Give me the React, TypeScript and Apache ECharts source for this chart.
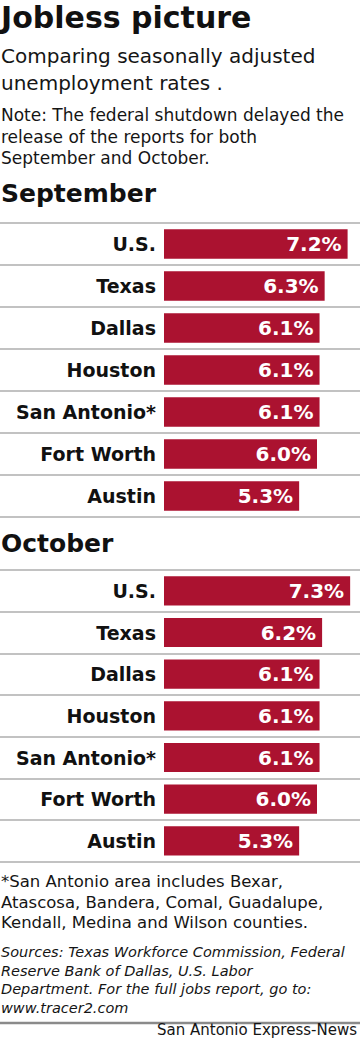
import React, { useEffect, useRef } from "react";
import * as echarts from "echarts";

const septCategories = ["U.S.", "Texas", "Dallas", "Houston", "San Antonio*", "Fort Worth", "Austin"];
const septValues = [7.2, 6.3, 6.1, 6.1, 6.1, 6.0, 5.3];
const octCategories = ["U.S.", "Texas", "Dallas", "Houston", "San Antonio*", "Fort Worth", "Austin"];
const octValues = [7.3, 6.2, 6.1, 6.1, 6.1, 6.0, 5.3];

const titleText = "Jobless picture";
const subtitleLines = ["Comparing seasonally adjusted", "unemployment rates ."];
const noteLines = [
  "Note: The federal shutdown delayed the",
  "release of the reports for both",
  "September and October.",
];
const sectionTitles = ["September", "October"];
const footnoteLines = [
  "*San Antonio area includes Bexar,",
  "Atascosa, Bandera, Comal, Guadalupe,",
  "Kendall, Medina and Wilson counties.",
];
const sourceLines = [
  "Sources: Texas Workforce Commission, Federal",
  "Reserve Bank of Dallas, U.S. Labor",
  "Department. For the full jobs report, go to:",
  "www.tracer2.com",
];
const creditText = "San Antonio Express-News";

const FONT = "'DejaVu Sans', sans-serif";
const BAR_COLOR = "#ab1230";
const W = 360;
const PX_PER_UNIT = 25.5;
const ZERO_X = 164;

export default function App() {
  const ref = useRef<HTMLDivElement>(null);
  useEffect(() => {
    document.body.style.margin = "0";
    const chart = echarts.init(ref.current!, null, { renderer: "svg" });

    const txt = (text: string, x: number, y: number, size: number, opts: any = {}) => ({
      type: "text",
      x,
      y,
      silent: true,
      style: {
        text,
        fontFamily: FONT,
        fontSize: size,
        fontWeight: opts.bold ? "bold" : "normal",
        fontStyle: opts.italic ? "italic" : "normal",
        fill: opts.color || "#151515",
        align: opts.align || "left",
        verticalAlign: "middle",
      },
    });

    const graphics: any[] = [];
    graphics.push(txt(titleText, 1, 17, 30, { bold: true, color: "#111" }));
    const subY = [56, 83];
    subtitleLines.forEach((l, i) => graphics.push(txt(l, 1, subY[i], 20)));
    const noteY = [114.5, 136.5, 158];
    noteLines.forEach((l, i) => graphics.push(txt(l, 1, noteY[i], 17)));
    graphics.push(txt(sectionTitles[0], 1, 193, 25, { bold: true, color: "#111" }));
    graphics.push(txt(sectionTitles[1], 1, 543, 25, { bold: true, color: "#111" }));
    const footY = [881, 902.5, 922.5];
    footnoteLines.forEach((l, i) => graphics.push(txt(l, 1, footY[i], 16.5)));
    const srcY = [952, 970.5, 989, 1007.5];
    sourceLines.forEach((l, i) => graphics.push(txt(l, 1, srcY[i], 14.5, { italic: true })));
    graphics.push({
      type: "line",
      silent: true,
      shape: { x1: 0, y1: 1023, x2: W, y2: 1023 },
      style: { stroke: "#8a8a8a", lineWidth: 2.5 },
    });
    graphics.push(txt(creditText, 357, 1030, 15, { align: "right" }));

    const xMin = -ZERO_X / PX_PER_UNIT;
    const xMax = (W - ZERO_X) / PX_PER_UNIT;

    const makeX = (gridIndex: number) => ({
      type: "value",
      gridIndex,
      min: xMin,
      max: xMax,
      show: false,
      splitLine: { show: false },
    });
    const makeY = (gridIndex: number, cats: string[]) => ({
      type: "category",
      gridIndex,
      data: cats,
      inverse: true,
      offset: -160,
      axisLine: { show: false },
      axisTick: { show: false },
      axisLabel: {
        margin: 4,
        fontFamily: FONT,
        fontSize: 19,
        fontWeight: "bold",
        color: "#111",
      },
      splitLine: { show: true, interval: 0, lineStyle: { color: "#c2c2c2", width: 2 } },
    });
    const makeSeries = (idx: number, values: number[]) => ({
      type: "bar",
      xAxisIndex: idx,
      yAxisIndex: idx,
      data: values,
      barWidth: "70%",
      itemStyle: { color: BAR_COLOR },
      label: {
        show: true,
        position: "insideRight",
        distance: 6,
        formatter: (p: any) => Number(p.value).toFixed(1) + "%",
        color: "#fff",
        fontFamily: FONT,
        fontSize: 20,
        fontWeight: "bold",
      },
    });

    chart.setOption({
      animation: false,
      backgroundColor: "#fff",
      grid: [
        { left: 0, width: W, top: 223, height: 294 },
        { left: 0, width: W, top: 570, height: 291.7 },
      ],
      xAxis: [makeX(0), makeX(1)],
      yAxis: [makeY(0, septCategories), makeY(1, octCategories)],
      series: [makeSeries(0, septValues), makeSeries(1, octValues)],
      graphic: graphics,
    });
    return () => chart.dispose();
  }, []);
  return <div ref={ref} style={{ width: 360, height: 1047 }} />;
}
